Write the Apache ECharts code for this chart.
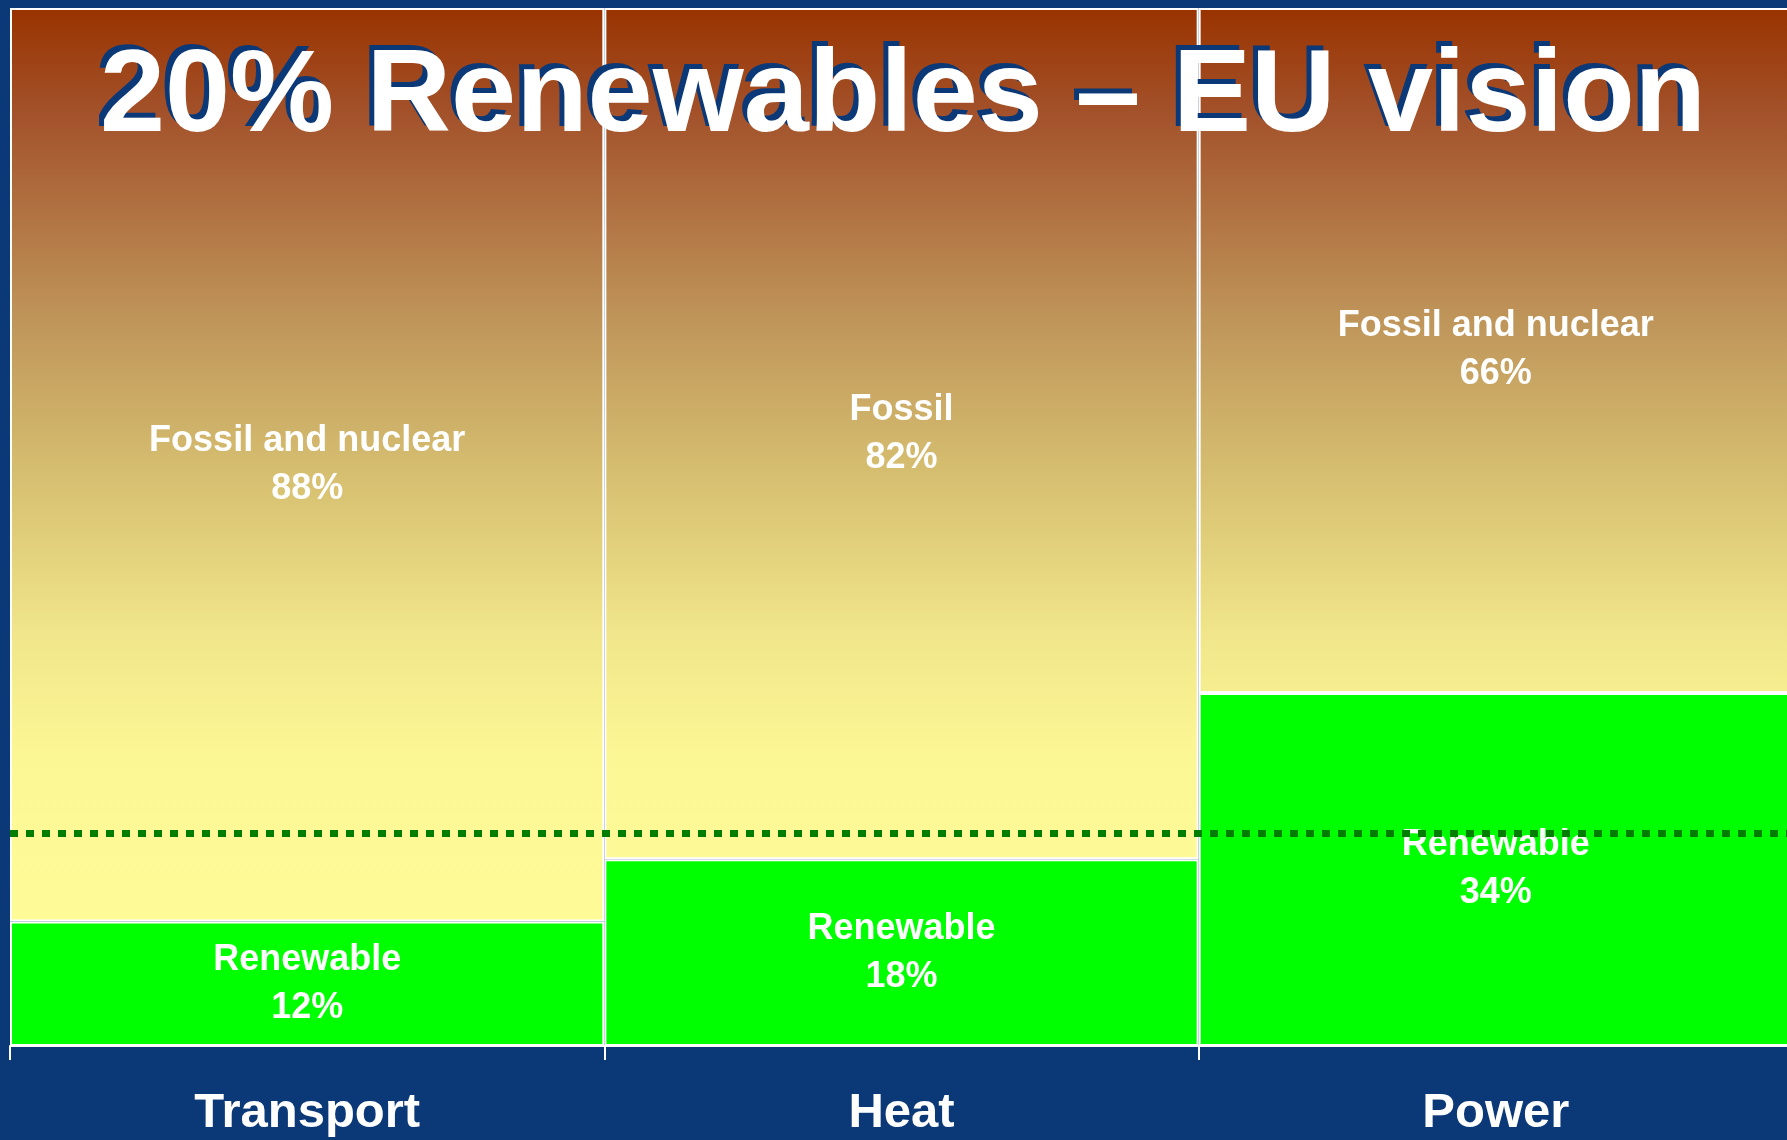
<!DOCTYPE html>
<html>
<head>
<meta charset="utf-8">
<script src="https://cdn.jsdelivr.net/npm/echarts@6/dist/echarts.min.js"></script>
<style>html,body{margin:0;padding:0;background:#0b3877;}#chart{width:1787px;height:1140px;}</style>
</head>
<body>
<div id="chart"></div>
<script>
const categories = ['Transport', 'Heat', 'Power'];
const renewableValues = [12, 18, 34];
const fossilValues = [88, 82, 66];
const fossilNames = ['Fossil and nuclear', 'Fossil', 'Fossil and nuclear'];
const renewableName = 'Renewable';
const targetValue = 20.5;
const titleText = '20% Renewables \u2013 EU vision';

const FONT = '"Liberation Sans", Arial, Helvetica, sans-serif';
const chart = echarts.init(document.getElementById('chart'), null, {renderer: 'canvas'});

const gradient = {
  type: 'linear', x: 0, y: 8, x2: 0, y2: 1046, global: true,
  colorStops: [
    {offset: 0, color: '#993300'},
    {offset: 0.1, color: '#a3512a'},
    {offset: 0.3, color: '#bf955a'},
    {offset: 0.45, color: '#d6bf70'},
    {offset: 0.6, color: '#f0e58a'},
    {offset: 0.72, color: '#fcf795'},
    {offset: 1, color: '#ffff99'}
  ]
};

const labelStyle = {
  show: true,
  position: 'inside',
  color: '#ffffff',
  fontFamily: FONT,
  fontWeight: 'bold',
  fontSize: 36,
  lineHeight: 48,
  align: 'center'
};

chart.setOption({
  backgroundColor: '#0b3877',
  animation: false,
  grid: {left: 10, top: 8, width: 1783, height: 1038, containLabel: false, outerBoundsMode: 'none'},
  xAxis: {
    type: 'category',
    data: categories,
    boundaryGap: true,
    axisLine: {show: true, lineStyle: {color: '#ffffff', width: 2}},
    axisTick: {show: true, length: 14, lineStyle: {color: '#ffffff', width: 2}},
    axisLabel: {color: '#ffffff', fontFamily: FONT, fontWeight: 'bold', fontSize: 49, lineHeight: 49, margin: 43},
    splitLine: {show: false}
  },
  yAxis: {
    type: 'value', min: 0, max: 100, show: false, splitLine: {show: false}
  },
  series: [
    {
      name: renewableName,
      type: 'bar',
      stack: 'total',
      barCategoryGap: '0%',
      data: renewableValues,
      itemStyle: {color: '#00ff00', borderColor: '#ffffff', borderWidth: 2},
      label: Object.assign({}, labelStyle, {
        formatter: p => renewableName + '\n' + p.value + '%'
      }),
      z: 2
    },
    {
      name: 'Fossil',
      type: 'bar',
      stack: 'total',
      barCategoryGap: '0%',
      data: fossilValues,
      itemStyle: {color: gradient, borderColor: '#ffffff', borderWidth: 2},
      label: Object.assign({}, labelStyle, {
        formatter: p => fossilNames[p.dataIndex] + '\n' + p.value + '%'
      }),
      z: 2
    },
    {
      name: 'Target',
      type: 'line',
      data: [],
      silent: true,
      z: 20,
      markLine: {
        silent: true,
        symbol: ['none', 'none'],
        label: {show: false},
        lineStyle: {color: '#017d01', width: 7, type: [8, 8], cap: 'butt'},
        emphasis: {disabled: true},
        data: [{yAxis: targetValue}]
      }
    }
  ],
  graphic: [
    {
      type: 'text', z: 50, silent: true,
      style: {
        text: titleText, x: 898, y: 94,
        font: 'bold 117px ' + FONT,
        fill: '#0b3877', align: 'center', verticalAlign: 'middle'
      }
    },
    {
      type: 'text', z: 51, silent: true,
      style: {
        text: titleText, x: 903, y: 99,
        font: 'bold 117px ' + FONT,
        fill: '#ffffff', align: 'center', verticalAlign: 'middle',
        shadowColor: '#000000', shadowOffsetX: 4, shadowOffsetY: 5, shadowBlur: 0
      }
    }
  ]
});
</script>
</body>
</html>
